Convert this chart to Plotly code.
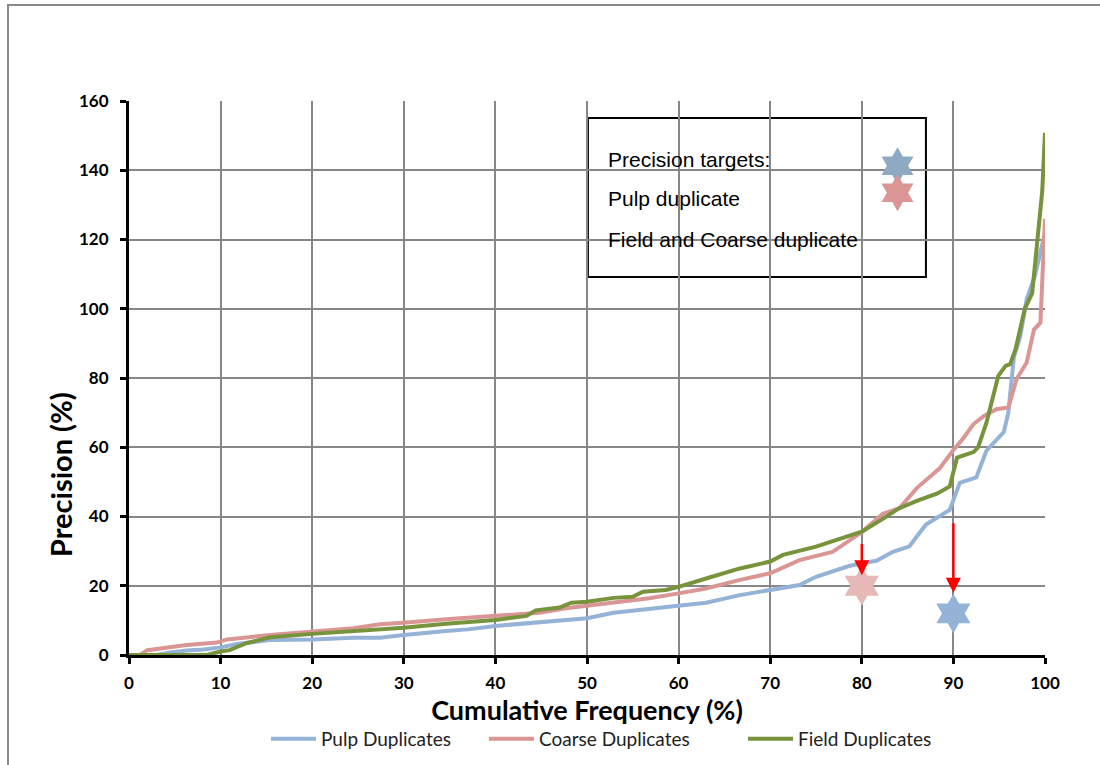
import plotly.graph_objects as go

# ---- data ----
pulp_x = [0, 3, 4.5, 6.3, 8.1, 10, 11.8, 15.4, 20, 24.5, 27.4, 30, 34.6, 37, 40, 42.7, 44.8, 47.7, 50,
          52.9, 55.8, 60, 63, 66.7, 70, 73.2, 75, 76.8, 78.6, 80, 81.6, 83.4, 85.2, 87, 88.9, 89.6,
          90.7, 92.5, 93.6, 95.5, 96, 96.6, 97.3, 98, 98.9, 100]
pulp_y = [0, 0, 0.7, 1.3, 1.6, 2.2, 3.2, 4.3, 4.5, 5.0, 5.0, 5.8, 6.9, 7.4, 8.4, 9, 9.3, 10.2, 10.6,
          12.2, 13.0, 14.1, 15.1, 17.3, 18.8, 20.2, 22.6, 24.1, 25.7, 26.5, 27.2, 29.8, 31.4, 37.7, 40.8, 41.9,
          49.7, 51.3, 59, 64.4, 70, 86, 92, 102.8, 109.5, 122]

coarse_x = [0, 1.2, 2, 4.5, 6.3, 9.6, 10.7, 15.4, 20, 24.5, 27.4, 30, 34.6, 40, 43.4, 44.8, 47.7, 50,
            52.9, 56.8, 60, 63, 66.7, 70, 73.2, 76.8, 79, 80, 82.3, 84.1, 86, 87.4, 88.5, 90, 91,
            92.2, 93.3, 94.7, 96, 96.9, 98, 98.8, 99.5, 100]
coarse_y = [0, 0, 1.4, 2.2, 2.9, 3.6, 4.5, 5.8, 6.8, 7.7, 8.9, 9.3, 10.3, 11.3, 11.8, 12.2, 13.5, 14.2,
            15.1, 16.4, 17.8, 19.2, 21.7, 23.6, 27.4, 29.8, 33.7, 35.5, 40.8, 42.4, 48.2, 51.3, 53.9, 59.2, 62.3,
            66.7, 69, 71, 71.5, 79.7, 84.5, 94, 96, 126]

field_x = [0, 8.5, 10, 11, 12.8, 15.4, 20, 24.5, 27.4, 30, 34.6, 40, 43.4, 44.4, 47, 48.3, 50, 52.9,
           55, 56.1, 58.6, 60, 63, 66.7, 70, 71.4, 75, 78.6, 80, 82.3, 84.1, 86, 88.2, 89.6, 90.4,
           92.2, 92.7, 93.6, 94.9, 95.7, 96.2, 96.8, 97.8, 98.6, 99.3, 99.7, 100]
field_y = [0, 0, 1, 1.4, 3.4, 5.1, 6.1, 6.9, 7.4, 7.9, 9.0, 10.1, 11.3, 12.9, 13.7, 15.1, 15.4, 16.5,
           16.8, 18.3, 18.8, 19.7, 22.1, 25, 27, 28.9, 31.3, 34.6, 35.6, 39.3, 42.4, 44.5, 46.6, 48.7, 57,
           58.6, 60, 67, 80.6, 83.5, 84, 88.5, 100, 104.5, 121.7, 134, 150.8]

# precision targets (cumulative %, precision %)
target_x = [80, 90]
target_y = [20, 12]

x_ticks = list(range(0, 101, 10))
y_ticks = list(range(0, 161, 20))

BLUE = "#95B3D7"
PINK = "#DA9694"
GREEN = "#77933C"

fig = go.Figure()
fig.add_trace(go.Scatter(x=pulp_x, y=pulp_y, mode="lines", name="Pulp Duplicates",
                         line=dict(color=BLUE, width=4), legend="legend"))
fig.add_trace(go.Scatter(x=coarse_x, y=coarse_y, mode="lines", name="Coarse Duplicates",
                         line=dict(color=PINK, width=4), legend="legend2"))
fig.add_trace(go.Scatter(x=field_x, y=field_y, mode="lines", name="Field Duplicates",
                         line=dict(color=GREEN, width=4), legend="legend3"))

# target stars
fig.add_trace(go.Scatter(x=target_x, y=target_y, mode="markers", showlegend=False,
                         marker=dict(symbol="hexagram", size=30, color=["#E6B9B8", BLUE],
                                     line=dict(width=0))))

# legend box stars
fig.add_trace(go.Scatter(x=[83.9, 83.9], y=[141.3, 133.5], mode="markers", showlegend=False,
                         marker=dict(symbol="hexagram", size=28, color=["#8EA9C1", "#DA9694"],
                                     line=dict(width=0))))

# red arrows
fig.add_annotation(x=80, y=23.0, ax=80, ay=32.5, xref="x", yref="y", axref="x", ayref="y",
                   showarrow=True, arrowhead=2, arrowsize=1.2, arrowwidth=2.5, arrowcolor="#FF0000", text="")
fig.add_annotation(x=90, y=18.0, ax=90, ay=38.5, xref="x", yref="y", axref="x", ayref="y",
                   showarrow=True, arrowhead=2, arrowsize=1.2, arrowwidth=2.5, arrowcolor="#FF0000", text="")

# legend box
fig.add_shape(type="rect", xref="x", yref="y", x0=50.1, x1=87.0, y0=109.2, y1=155.1,
              line=dict(color="black", width=2), fillcolor="white", layer="below")
box_texts = ["Precision targets:", "Pulp duplicate", "Field and Coarse duplicate"]
box_ys = [143.0, 131.9, 120.0]
for t, yy in zip(box_texts, box_ys):
    fig.add_annotation(x=52.1, y=yy, xref="x", yref="y", text=t, showarrow=False,
                       xanchor="left", yanchor="middle",
                       font=dict(family="Liberation Sans, Arial", size=21, color="black"))

# y-axis title (placed as in the original, below the axis centre)
fig.add_annotation(x=(60 - 129) / 916, y=(655 - 475) / 554, xref="paper", yref="paper",
                   text="Precision (%)", textangle=-90, showarrow=False,
                   xanchor="center", yanchor="middle",
                   font=dict(family="Lato, sans-serif", size=29, color="black", weight="bold"))

# outer chart border
fig.add_shape(type="rect", xref="paper", yref="paper",
              x0=(8 - 129) / 916, x1=(1104 - 129) / 916, y0=(655 - 775) / 554, y1=(655 - 5) / 554,
              line=dict(color="#898989", width=2), fillcolor="rgba(0,0,0,0)", layer="below")

tick_font = dict(family="Lato, sans-serif", size=17, color="black", weight="bold")
leg_font = dict(family="Lato, sans-serif", size=19, color="#222")
leg_y = (655 - 739) / 554


def leg(px):
    return dict(orientation="h", x=(px - 129) / 916, xanchor="left", y=leg_y, yanchor="middle",
                font=leg_font, itemwidth=45, bgcolor="rgba(0,0,0,0)")


fig.update_layout(
    width=1100, height=765,
    margin=dict(l=129, r=55, t=101, b=110, autoexpand=False),
    paper_bgcolor="white", plot_bgcolor="white",
    showlegend=True,
    legend=leg(266), legend2=leg(484), legend3=leg(743),
    xaxis=dict(range=[0, 100], tickvals=x_ticks, ticktext=[str(v) for v in x_ticks],
               showgrid=True, gridcolor="#878787", gridwidth=2,
               showline=True, linecolor="black", linewidth=3,
               ticks="outside", ticklen=6, tickwidth=3, tickcolor="black",
               tickfont=tick_font, zeroline=False, ticklabelstandoff=5,
               title=dict(text="Cumulative Frequency (%)", standoff=6,
                          font=dict(family="Lato, sans-serif", size=27, color="black", weight="bold"))),
    yaxis=dict(range=[0, 160], tickvals=y_ticks, ticktext=[str(v) for v in y_ticks],
               showgrid=True, gridcolor="#878787", gridwidth=2,
               showline=True, linecolor="black", linewidth=3,
               ticks="outside", ticklen=6, tickwidth=3, tickcolor="black",
               tickfont=tick_font, zeroline=False, ticklabelstandoff=8),
)

fig.write_html("out.html", config={"displayModeBar": False},
               post_script="document.body.style.margin='0';")
